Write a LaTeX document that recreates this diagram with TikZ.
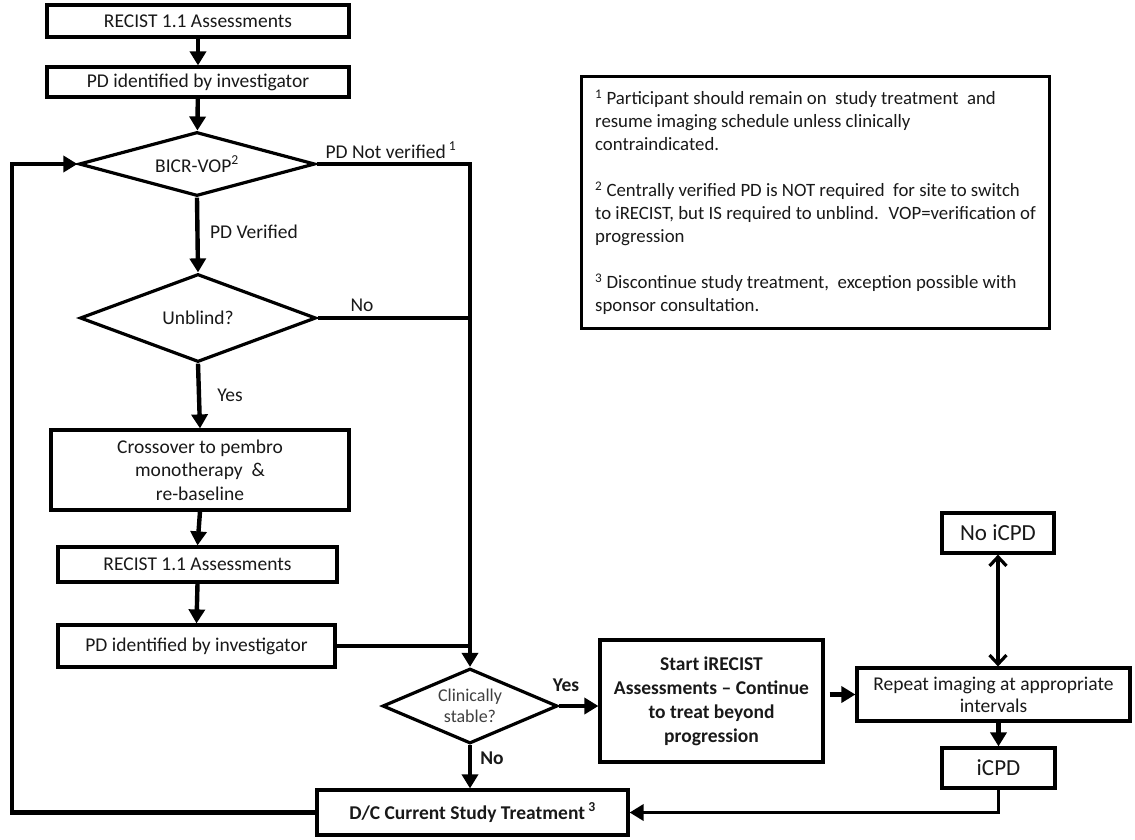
\documentclass[tikz,border=0pt]{standalone}
\usepackage{fontspec}
\setmainfont{Carlito}
\usetikzlibrary{shapes.geometric,arrows.meta}
\begin{document}
\begin{tikzpicture}[x=1pt,y=-1pt,
  txt/.style={text=black!90, font=\fontsize{19.5}{23.5}\selectfont},
  box/.style={draw, line width=3.2pt, rectangle, txt, align=center, inner sep=0pt},
  dia/.style={draw, line width=3.2pt, diamond, txt, align=center, inner sep=0pt, aspect=3},
  flow/.style={line width=4.4pt, -{Triangle[length=14pt,width=16pt]}},
  link/.style={line width=4.4pt},
  lbl/.style={txt, inner sep=1pt},
  blbl/.style={txt, inner sep=1pt, font=\fontsize{19.5}{23.5}\selectfont\bfseries},
]
\fill[white] (0,0) rectangle (1135,839);
\useasboundingbox (0,0) rectangle (1135,839);

% left column
\node[box, minimum width=302, minimum height=32] (r1) at (198,21) {RECIST 1.1 Assessments};
\node[box, minimum width=302, minimum height=30] (p1) at (198,82) {PD identified by investigator};
\node[dia, minimum width=236, minimum height=64] (bicr) at (197,164) {BICR-VOP\textsuperscript{2}};
\node[dia, minimum width=236, minimum height=88] (unb) at (198,318) {Unblind?};
\node[box, minimum width=298, minimum height=80] (cross) at (200,470)
  {Crossover to pembro\\ monotherapy~ \&\\ re-baseline};
\node[box, minimum width=279, minimum height=35] (r2) at (197.5,564.5) {RECIST 1.1 Assessments};
\node[box, minimum width=277, minimum height=42] (p2) at (196.5,646) {PD identified by investigator};

% decision and treatment
\node[dia, minimum width=175, minimum height=75, text=black!75, font=\fontsize{18}{21}\selectfont] (clin) at (470,706) {Clinically\\ stable?};
\node[box, minimum width=223, minimum height=122, font=\fontsize{19.5}{24}\selectfont\bfseries] (start) at (711.5,701)
  {Start iRECIST\\ Assessments -- Continue\\ to treat beyond\\ progression};
\node[box, minimum width=311, minimum height=45, font=\fontsize{19.5}{23.5}\selectfont\bfseries] (dc) at (472.5,812.5)
  {D/C Current Study Treatment\,\textsuperscript{3}};

% right column
\node[box, minimum width=273, minimum height=53, font=\fontsize{19.5}{22}\selectfont] (rep) at (993.5,694.5)
  {Repeat imaging at appropriate\\ intervals};
\node[box, minimum width=112, minimum height=40, font=\fontsize{23}{26}\selectfont] (noi) at (998,533) {No iCPD};
\node[box, minimum width=113, minimum height=40, font=\fontsize{23}{26}\selectfont] (icpd) at (998.5,768) {iCPD};

% footnotes
\node[box, anchor=north west, minimum width=468, minimum height=252, align=left,
      font=\fontsize{18.8}{23}\selectfont, inner xsep=12pt] (notes) at (580,75)
  {\textsuperscript{1} Participant should remain on~ study treatment~ and\\
   resume imaging schedule unless clinically\\
   contraindicated.\\[23pt]
   \textsuperscript{2} Centrally verified PD is NOT required~ for site to switch\\
   to iRECIST, but IS required to unblind.~ VOP=verification of\\
   progression\\[23pt]
   \textsuperscript{3} Discontinue study treatment,~ exception possible with\\
   sponsor consultation.};

% connectors
\coordinate (lt) at (12,164);
\draw[flow] (r1) -- (p1);
\draw[flow] (p1) -- (bicr);
\draw[flow] (bicr.south) -- (unb.north);
\draw[flow] (unb.south) -- (cross.north);
\draw[flow] (cross.south) -- (r2.north);
\draw[flow] (r2.south) -- (p2.north);
\draw[flow] (bicr.east) -| (clin.north);
\draw[link] (unb.east) -- (unb.east -| clin.north);
\draw[link] (p2.east) -- (p2.east -| clin.north);
\draw[flow] (clin.east) -- (clin.east -| start.west);
\draw[flow] (clin.south) -- (clin.south |- dc.north);
\draw[flow, shorten <=5pt] (start.east |- rep.west) -- (rep.west);
\draw[line width=3.2pt, {Straight Barb[length=9pt,width=17pt]}-{Straight Barb[length=9pt,width=17pt]}]
  (noi.south) -- (noi.south |- rep.north);
\draw[flow] (rep.south -| icpd.north) -- (icpd.north);
\draw[flow, line width=3.6pt] (icpd.south) |- (dc.east);
\draw[flow] (dc.west) -| (lt) -- (bicr.west);

% branch labels
\node[lbl] (l1) at (391,150) {PD Not verified\,\textsuperscript{1}};
\node[lbl] (l2) at (254,232) {PD Verified};
\node[lbl] (l3) at (362,305) {No};
\node[lbl] (l4) at (230,395) {Yes};
\node[blbl] (l5) at (566,685) {Yes};
\node[blbl] (l6) at (492,758) {No};
\end{tikzpicture}
\end{document}
